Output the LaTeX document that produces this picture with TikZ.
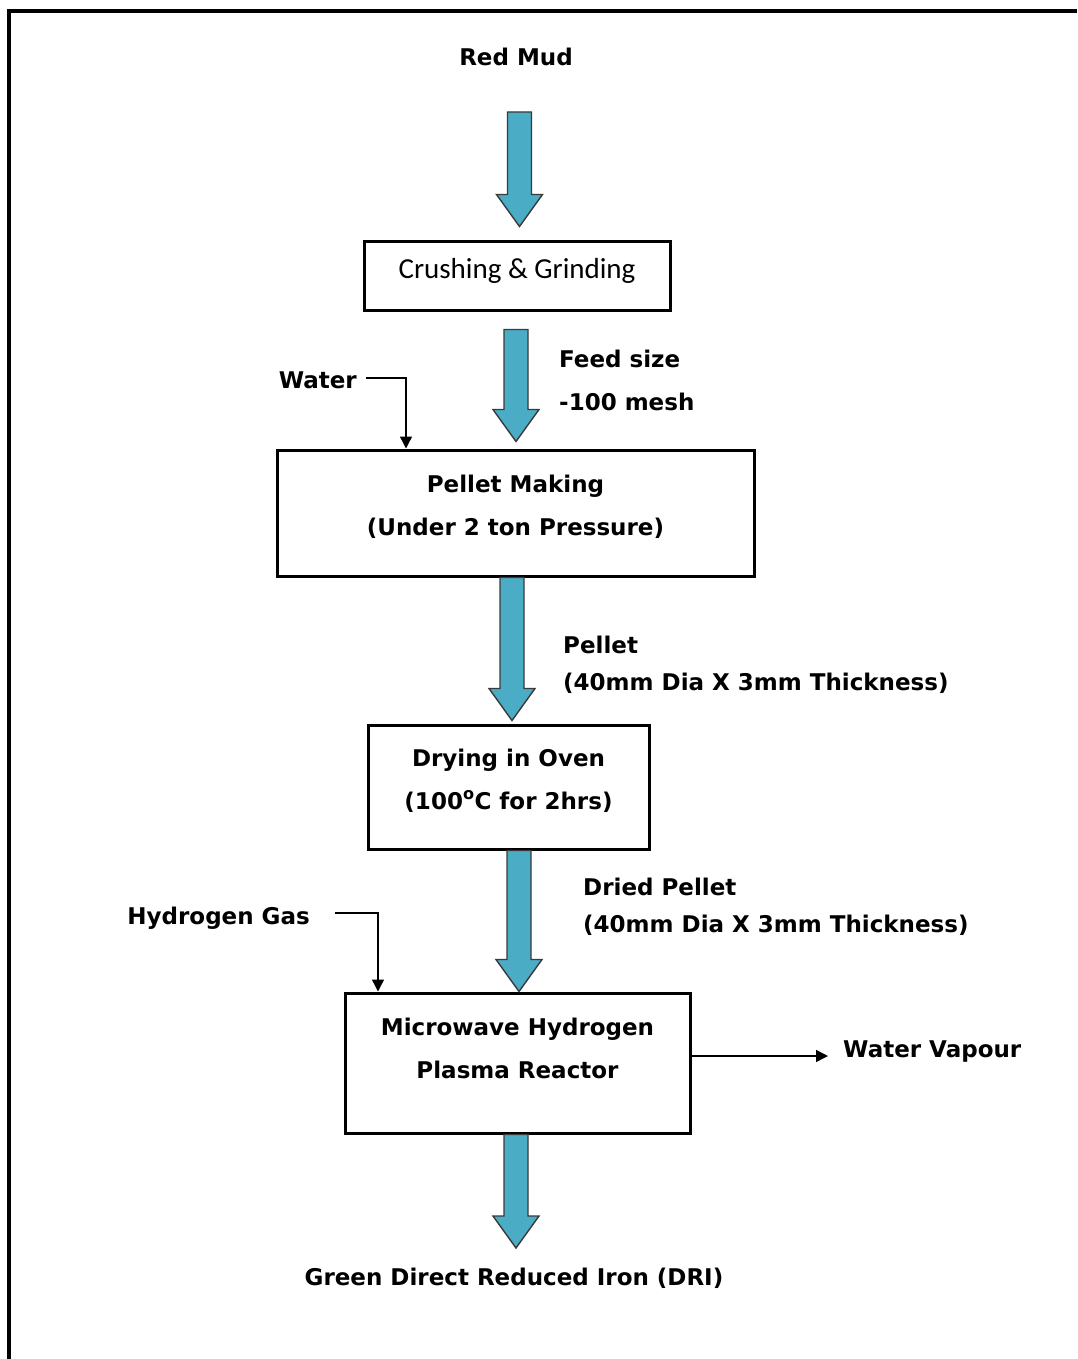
\documentclass[tikz,border=0pt]{standalone}
\usepackage{fontspec}
\setmainfont{DejaVu Sans}
\newfontfamily\calfont{Carlito}
\usepackage{tikz}
\usetikzlibrary{positioning}
\usetikzlibrary{arrows.meta}
\usetikzlibrary{calc}
\definecolor{arrowblue}{HTML}{4BACC6}
\definecolor{arrowedge}{HTML}{3A3A3A}
\tikzset{
  txt/.style={inner sep=0pt, font=\bfseries\fontsize{23}{43}\selectfont},
  twoline/.style={txt, align=left, font=\bfseries\fontsize{23}{37}\selectfont},
  stagebox/.style={draw, line width=3pt, inner sep=0pt, align=center,
    font=\bfseries\fontsize{23}{43}\selectfont},
  fatarrow/.style={fill=arrowblue, draw=arrowedge, line width=1.4pt, line join=miter},
  feed/.style={line width=1.4pt, -{Triangle[length=12pt,width=12pt]}}
}
% big blue process arrow: start, node at tip level, gap above it
\newcommand{\fatarrow}[3]{%
  \coordinate (fa1) at (#1);
  \path (fa1 |- #2) ++(0,#3) coordinate (fa2);
  \draw[fatarrow] ($(fa1)+(-12,0)$) -- ($(fa2)+(-12,32)$) -- ($(fa2)+(-23,32)$)
    -- (fa2) -- ($(fa2)+(23,32)$) -- ($(fa2)+(12,32)$) -- ($(fa1)+(12,0)$) -- cycle;
}
\begin{document}
\begin{tikzpicture}[x=1pt,y=1pt]
\useasboundingbox (0,0) rectangle (1077,-1359);
\draw[line width=3.5pt] (9,-1359) -- (9,-11) -- (1077,-11);

\node[txt] (redmud) at (516,-57) {Red Mud};
\node[stagebox, minimum width=306, minimum height=69, text height=20pt, text depth=15pt,
  font=\calfont\fontsize{29}{35}\selectfont] (crush) at (517,-275.5) {Crushing \& Grinding};
\node[twoline, anchor=west, font=\bfseries\fontsize{23}{43}\selectfont] (feedsize) at (559,-380) {Feed size\\-100 mesh};
\node[txt, anchor=east] (water) at (357,-380) {Water};
\node[stagebox, minimum width=477, minimum height=126, text height=60pt, text depth=16pt]
  (pellet) at (515.5,-513) {Pellet Making\\(Under 2 ton Pressure)};
\node[twoline, anchor=west] (pelletsize) at (563,-665) {Pellet\\(40mm Dia X 3mm Thickness)};
\node[stagebox, minimum width=281, minimum height=124, text height=60pt, text depth=16pt]
  (dry) at (508.5,-787) {Drying in Oven\\(100\textsuperscript{o}C for 2hrs)};
\node[twoline, anchor=west] (driedsize) at (583,-907) {Dried Pellet\\(40mm Dia X 3mm Thickness)};
\node[txt, anchor=east] (hgas) at (310,-918) {Hydrogen Gas};
\node[stagebox, minimum width=345, minimum height=140, text height=60pt, text depth=30pt]
  (reactor) at (517.5,-1063) {Microwave Hydrogen\\Plasma Reactor};
\node[txt, anchor=west] (vapour) at (843,-1051) {Water Vapour};
\node[txt] (dri) at (514,-1278) {Green Direct Reduced Iron (DRI)};

\fatarrow{519.5,-112}{crush.north}{13}
\fatarrow{$(crush.south)+(-1,-18)$}{pellet.north}{7}
\fatarrow{$(pellet.south)+(-3.5,0)$}{dry.north}{3}
\fatarrow{$(dry.south)+(10.5,0)$}{reactor.north}{0}
\fatarrow{$(reactor.south)+(-1.5,0)$}{dri.center}{30}

\draw[feed] ([xshift=9pt,yshift=2pt]water.east) -| ([xshift=-109.5pt]pellet.north);
\draw[feed] ([xshift=25pt,yshift=5pt]hgas.east) -| ([xshift=-139.5pt]reactor.north);
\coordinate (vapourout) at ([yshift=7pt]reactor.east);
\coordinate (vapourtip) at ([xshift=-15pt]vapour.west);
\draw[feed] (vapourout) -- (vapourout -| vapourtip);
\end{tikzpicture}
\end{document}
